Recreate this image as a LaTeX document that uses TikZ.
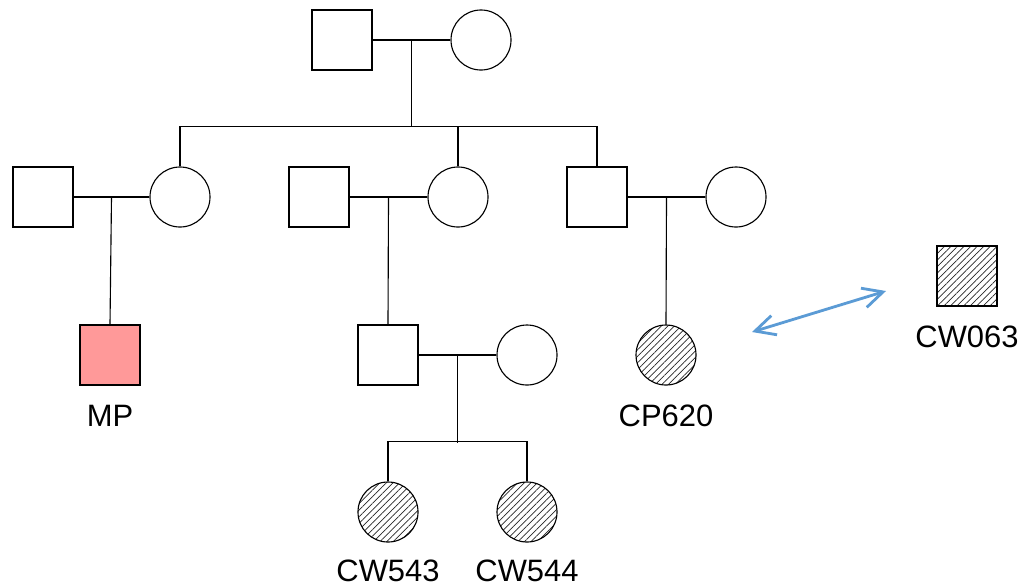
\documentclass[tikz,border=0pt]{standalone}
\usepackage{fontspec}
\setmainfont{Liberation Sans}
\usepackage{xcolor}
\definecolor{affpink}{RGB}{255,153,153}
\definecolor{linkblue}{RGB}{91,155,213}
\usepackage{tikz}
\usetikzlibrary{arrows.meta, positioning, calc, patterns.meta}

\begin{document}
\begin{tikzpicture}[
    x=0.025cm, y=-0.025cm,
    line width=0.8pt,
    male/.style={rectangle, draw=black, minimum size=1.5cm, inner sep=0pt},
    female/.style={circle, draw=black, minimum size=1.5cm, inner sep=0pt},
    carrier/.style={pattern={Lines[angle=45, distance=3.3pt, line width=0.5pt]}, pattern color=black!85},
    affected/.style={fill=affpink},
    lab/.style={font=\fontsize{22}{24}\selectfont, inner sep=0pt, anchor=north},
    link/.style={{Straight Barb[length=5mm, width=5mm]}-{Straight Barb[length=5mm, width=5mm]}, line width=2pt, linkblue}
]
\useasboundingbox (0,0) rectangle (1023,587);

% generation I
\node[male] (gf) at (342,40) {};
\node[female] (gm) at (481,40) {};

% generation II
\node[male] (h1) at (43,197) {};
\node[female] (d1) at (180,197) {};
\node[male] (h2) at (319,197) {};
\node[female] (d2) at (458,197) {};
\node[male] (s3) at (597,197) {};
\node[female] (w3) at (736,197) {};

% generation III
\node[male, affected] (mp) at (110,355) {};
\node[male] (g4) at (388,355) {};
\node[female] (w4) at (527,355) {};
\node[female, carrier] (cp) at (666,355) {};
\node[male, carrier] (cw63) at (967,276) {};

% generation IV
\node[female, carrier] (cw43) at (388,512) {};
\node[female, carrier] (cw44) at (527,512) {};

% labels
\node[lab, below=0.47cm of mp] (mplab) {MP};
\node[lab, below=0.47cm of cp] (cplab) {CP620};
\node[lab, below=0.47cm of cw63] (cw63lab) {CW063};
\node[lab, below=0.42cm of cw43] (cw43lab) {CW543};
\node[lab, below=0.42cm of cw44] (cw44lab) {CW544};

% marriages
\draw (gf) -- (gm);
\draw (h1) -- (d1);
\draw (h2) -- (d2);
\draw (s3) -- (w3);
\draw (g4) -- (w4);

\coordinate (m0) at ($(gf.east)!0.5!(gm.west)$);
\coordinate (m1) at ($(h1.east)!0.5!(d1.west)$);
\coordinate (m2) at ($(h2.east)!0.5!(d2.west)$);
\coordinate (m3) at ($(s3.east)!0.5!(w3.west)$);
\coordinate (m4) at ($(g4.east)!0.5!(w4.west)$);

% descent lines
\draw (m0) -- (m0 |- 0,127);
\draw (d1.north) -- ++(0,-40) -| (s3.north);
\draw (d2.north) -- (d2.north |- 0,127);
\draw (m1) -- (mp.north);
\draw (m2) -- (g4.north);
\draw (m3) -- (cp.north);
\draw (m4) -- (m4 |- 0,443);
\draw (cw43.north) -- ++(0,-40) -| (cw44.north);

% relation
\coordinate (a1) at (752,332);
\coordinate (a2) at (886,291);
\draw[link] (a1) -- (a2);
\end{tikzpicture}
\end{document}
